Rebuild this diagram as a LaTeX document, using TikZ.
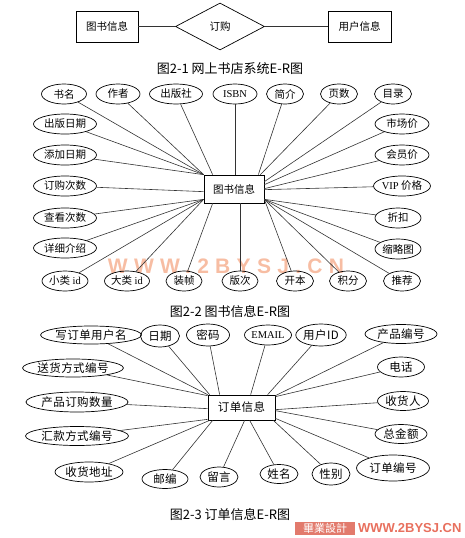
\documentclass[tikz,border=0pt]{standalone}
\usepackage{fontspec}
\setmainfont{Liberation Serif}
\newfontfamily\cjk{Noto Sans CJK SC}
\newfontfamily\cjkw[LetterSpace=4]{Noto Sans CJK SC}
\newfontfamily\wmfont[LetterSpace=30]{Liberation Sans}
\newfontfamily\logofont{Liberation Sans}
\usetikzlibrary{shapes.geometric,calc}
\definecolor{wmcol}{HTML}{F7BDA3}
\definecolor{logobg}{HTML}{E27A6C}
\definecolor{logotx}{HTML}{E8705E}
\begin{document}
\begin{tikzpicture}[x=1pt,y=-1pt,
  ln/.style={draw=black!80,line width=0.6},
  attr/.style={ellipse,draw,line width=0.7,inner sep=0pt,minimum height=20,
    font=\cjk\fontsize{10.5}{12}\selectfont},
  attrw/.style={ellipse,draw,line width=0.7,inner sep=0pt,minimum height=20,
    font=\cjkw\fontsize{11.5}{14}\selectfont},
  ent/.style={draw,line width=0.7,inner sep=0pt,font=\cjk\fontsize{10.5}{12}\selectfont},
  figcap/.style={font=\cjk\fontsize{13}{14}\selectfont}]
\useasboundingbox (0,0) rectangle (464,538);

% ---------- Figure 2-1 ----------
\node[ent,minimum width=62,minimum height=31] (b1) at (107,26.5) {图书信息};
\node[ent,minimum width=63,minimum height=31] (u1) at (359.5,26.5) {用户信息};
\node[diamond,draw,line width=0.7,inner sep=0pt,minimum width=89,minimum height=47,
  font=\cjk\fontsize{10.5}{12}\selectfont] (dg) at (220,26.5) {订购};
\draw[ln] (b1.east) -- (dg.west);
\draw[ln] (dg.east) -- (u1.west);
\node[figcap] (c1) at (230,69) {图2-1 网上书店系统E-R图};

% ---------- Figure 2-2 ----------
\node[font=\wmfont\bfseries\fontsize{21}{21}\selectfont,text=wmcol] (wm) at (226,266) {WWW.2BYSJ.CN};

\node[ent,minimum width=60,minimum height=28] (bk) at (234,189) {图书信息};

\node[attr,minimum width=45] (sm) at (64,94) {书名};
\node[attr,minimum width=44] (zz) at (118,94) {作者};
\node[attr,minimum width=53] (cbs) at (176,94) {出版社};
\node[attr,minimum width=44] (isbn) at (235,94) {\rmfamily ISBN};
\node[attr,minimum width=37] (jj) at (285,94) {简介};
\node[attr,minimum width=37] (ys) at (339,94) {页数};
\node[attr,minimum width=37] (ml) at (393,94) {目录};
\node[attr,minimum width=63] (cbrq) at (65,124) {出版日期};
\node[attr,minimum width=63] (tjrq) at (65,155) {添加日期};
\node[attr,minimum width=63] (dgcs) at (65,186) {订购次数};
\node[attr,minimum width=63] (ckcs) at (65,218) {查看次数};
\node[attr,minimum width=63] (xxjs) at (65,248) {详细介绍};
\node[attr,minimum width=46] (xlid) at (65,281) {小类 {\rmfamily id}};
\node[attr,minimum width=45] (dlid) at (127,281) {大类 {\rmfamily id}};
\node[attr,minimum width=36] (zhz) at (184,281) {装帧};
\node[attr,minimum width=36] (bc) at (240,281) {版次};
\node[attr,minimum width=37] (kb) at (295,281) {开本};
\node[attr,minimum width=37] (jf) at (348,281) {积分};
\node[attr,minimum width=37] (tj) at (402,281) {推荐};
\node[attr,minimum width=54] (scj) at (402,124) {市场价};
\node[attr,minimum width=54] (hyj) at (402,155) {会员价};
\node[attr,minimum width=54] (vip) at (402,186) {{\rmfamily VIP} 价格};
\node[attr,minimum width=46] (zk) at (398,218) {折扣};
\node[attr,minimum width=46] (slt) at (398,249) {缩略图};

\draw[ln] (bk.north west) -- (sm);
\draw[ln] (bk.north west) -- (zz);
\draw[ln] ($(bk.north west)+(9,0)$) -- (cbs);
\draw[ln] (isbn |- bk.north) -- (isbn);
\draw[ln] ($(bk.north east)+(-6,0)$) -- (jj);
\draw[ln] ($(bk.north east)+(-4,0)$) -- (ys);
\draw[ln] ($(bk.north east)+(0,7)$) -- (ml);
\draw[ln] ($(bk.north east)+(0,10)$) -- (scj);
\draw[ln] ($(bk.north east)+(0,14)$) -- (hyj);
\draw[ln] ($(bk.north east)+(0,15)$) -- (vip);
\draw[ln] (bk.north west) -- (cbrq);
\draw[ln] (bk.north west) -- (tjrq);
\draw[ln] ($(bk.north west)+(0,17)$) -- (dgcs);
\draw[ln] ($(bk.south west)+(0,-4)$) -- (ckcs);
\draw[ln] ($(bk.south west)+(0,-4)$) -- (xxjs);
\draw[ln] ($(bk.south west)+(0,-4)$) -- (xlid);
\draw[ln] ($(bk.south west)+(0,-4)$) -- (dlid);
\draw[ln] ($(bk.south west)+(9,0)$) -- (zhz);
\draw[ln] (bc |- bk.south) -- (bc);
\draw[ln] ($(bk.south east)+(0,-4)$) -- (kb);
\draw[ln] ($(bk.south east)+(0,-4)$) -- (jf);
\draw[ln] ($(bk.south east)+(0,-4)$) -- (tj);
\draw[ln] ($(bk.south east)+(0,-4)$) -- (slt);
\draw[ln] ($(bk.south east)+(0,-4)$) -- (zk);
\node[figcap] (c2) at (230,312) {图2-2 图书信息E-R图};

% ---------- Figure 2-3 ----------
\node[ent,font=\cjkw\fontsize{11.5}{14}\selectfont,minimum width=67,minimum height=25] (ob) at (241.5,407.5) {订单信息};

\node[attrw,minimum width=84,minimum height=18] (xd) at (91,335) {写订单用户名};
\node[attrw,minimum width=39,minimum height=22] (rq) at (160,336) {日期};
\node[attrw,minimum width=43,minimum height=22] (mm) at (208,335) {密码};
\node[attrw,minimum width=43,minimum height=20] (em) at (268,335) {\rmfamily\fontsize{10.5}{12}\selectfont EMAIL};
\node[attrw,minimum width=45,minimum height=22] (uid) at (321,335) {用户ID};
\node[attrw,minimum width=72,minimum height=19] (cpbh) at (401,334) {产品编号};
\node[attrw,minimum width=47,minimum height=20] (dh) at (401,367) {电话};
\node[attrw,minimum width=51,minimum height=19] (shr) at (403,401) {收货人};
\node[attrw,minimum width=94,minimum height=18] (shfs) at (73,368) {送货方式编号};
\node[attrw,minimum width=102,minimum height=20] (cpsl) at (77,402) {产品订购数量};
\node[attrw,minimum width=103,minimum height=19] (hkfs) at (77,436) {汇款方式编号};
\node[attrw,minimum width=68,minimum height=20] (shdz) at (89,472) {收货地址};
\node[attrw,minimum width=46,minimum height=19] (yb) at (165,479) {邮编};
\node[attrw,minimum width=38,minimum height=20] (ly) at (219,477) {留言};
\node[attrw,minimum width=38,minimum height=19] (xm) at (279,474) {姓名};
\node[attrw,minimum width=38,minimum height=22] (xb) at (331,474) {性别};
\node[attrw,minimum width=73,minimum height=26] (ddbh) at (393,468) {订单编号};
\node[attrw,minimum width=52,minimum height=19] (zje) at (401,434) {总金额};

\draw[ln] (ob.north west) -- (xd);
\draw[ln] ($(ob.north west)+(2,0)$) -- (rq);
\draw[ln] ($(ob.north west)+(12,0)$) -- (mm);
\draw[ln] ($(ob.north west)+(43,0)$) -- (em);
\draw[ln] ($(ob.north west)+(60,0)$) -- (uid);
\draw[ln] ($(ob.north east)+(0,1)$) -- (cpbh);
\draw[ln] ($(ob.north east)+(0,2)$) -- (dh);
\draw[ln] ($(ob.north east)+(0,15)$) -- (shr);
\draw[ln] ($(ob.north east)+(0,16)$) -- (zje);
\draw[ln] ($(ob.south east)+(0,-2)$) -- (ddbh);
\draw[ln] ($(ob.south east)+(-2,0)$) -- (xb);
\draw[ln] ($(ob.south west)+(42,0)$) -- (xm);
\draw[ln] ($(ob.south west)+(37,0)$) -- (ly);
\draw[ln] ($(ob.south west)+(5,0)$) -- (yb);
\draw[ln] ($(ob.south west)+(2,0)$) -- (shdz);
\draw[ln] ($(ob.south west)+(0,-1)$) -- (hkfs);
\draw[ln] ($(ob.north west)+(0,14)$) -- (cpsl);
\draw[ln] ($(ob.north west)+(0,1)$) -- (shfs);
\node[figcap] (c3) at (230,515) {图2-3 订单信息E-R图};

% ---------- logo ----------
\node[fill=logobg,text=white,inner sep=0pt,minimum width=60,minimum height=13,
  font=\cjk\fontsize{11}{12}\selectfont] (logo) at (325,528.5) {畢業設計};
\node[anchor=west,text=logotx,inner sep=0pt,font=\logofont\bfseries\fontsize{13}{13}\selectfont] (logotext) at (358,528.5) {WWW.2BYSJ.CN};
\end{tikzpicture}
\end{document}
